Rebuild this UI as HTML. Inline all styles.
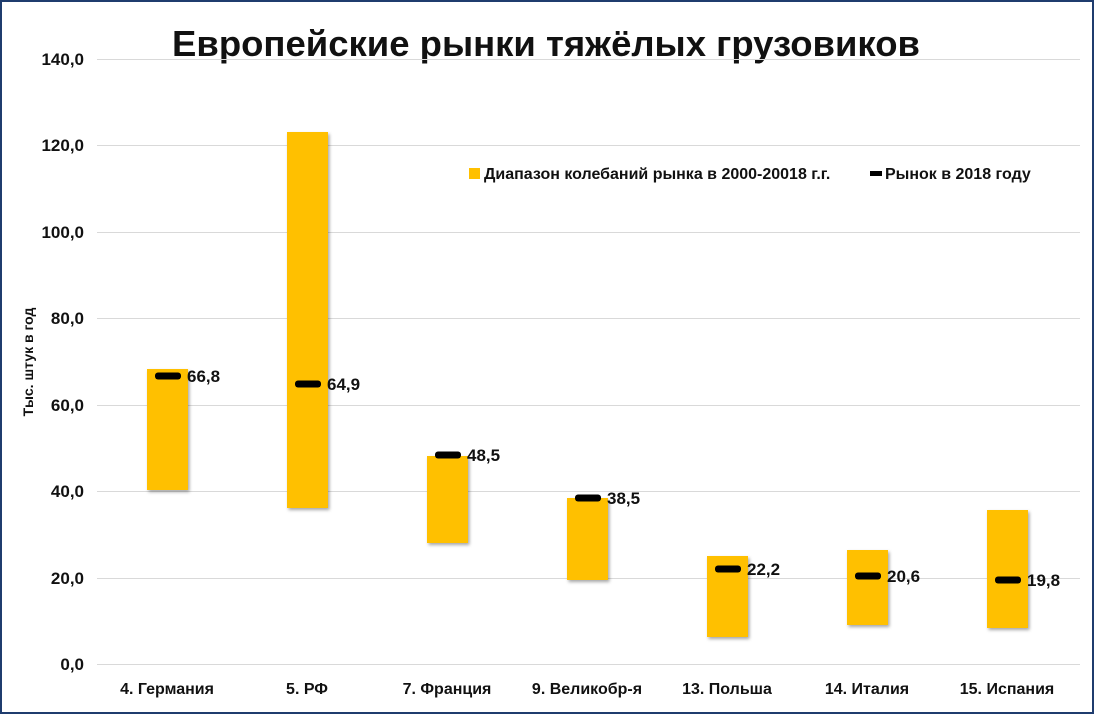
<!DOCTYPE html>
<html><head><meta charset="utf-8"><style>
body{margin:0;background:#fff}
svg text{font-family:"Liberation Sans",sans-serif;font-weight:bold;fill:#111}
</style></head><body>
<svg width="1094" height="714" viewBox="0 0 1094 714" xmlns="http://www.w3.org/2000/svg">
<defs><filter id="sh" x="-20%" y="-5%" width="140%" height="110%"><feDropShadow dx="1.5" dy="2" stdDeviation="1.5" flood-color="#000" flood-opacity="0.35"/></filter></defs>
<rect x="1" y="1" width="1092" height="712" fill="#fff" stroke="#1f3c6e" stroke-width="2"/>
<text x="546" y="56" text-anchor="middle" font-size="36.5">Европейские рынки тяжёлых грузовиков</text>
<g stroke="#d9d9d9" stroke-width="1">
<line x1="97" x2="1080" y1="59.5" y2="59.5"/><line x1="97" x2="1080" y1="145.5" y2="145.5"/>
<line x1="97" x2="1080" y1="232.5" y2="232.5"/><line x1="97" x2="1080" y1="318.5" y2="318.5"/>
<line x1="97" x2="1080" y1="405.5" y2="405.5"/><line x1="97" x2="1080" y1="491.5" y2="491.5"/>
<line x1="97" x2="1080" y1="578.5" y2="578.5"/><line x1="97" x2="1080" y1="664.5" y2="664.5"/>
</g>
<g font-size="17" text-anchor="end">
<text x="84" y="65">140,0</text><text x="84" y="151">120,0</text><text x="84" y="238">100,0</text>
<text x="84" y="324">80,0</text><text x="84" y="411">60,0</text><text x="84" y="497">40,0</text>
<text x="84" y="584">20,0</text><text x="84" y="670">0,0</text>
</g>
<text transform="translate(33,362) rotate(-90)" text-anchor="middle" font-size="14">Тыс. штук в год</text>
<g fill="#ffc000" filter="url(#sh)">
<rect x="147" y="369" width="41" height="121"/>
<rect x="287" y="132" width="41" height="376"/>
<rect x="427" y="456" width="41" height="87"/>
<rect x="567" y="498" width="41" height="82"/>
<rect x="707" y="556" width="41" height="81"/>
<rect x="847" y="550" width="41" height="75"/>
<rect x="987" y="510" width="41" height="118"/>
</g>
<g fill="#000">
<rect x="155" y="372.5" width="26" height="7" rx="3"/>
<rect x="295" y="380.5" width="26" height="7" rx="3"/>
<rect x="435" y="451.5" width="26" height="7" rx="3"/>
<rect x="575" y="494.5" width="26" height="7" rx="3"/>
<rect x="715" y="565.5" width="26" height="7" rx="3"/>
<rect x="855" y="572.5" width="26" height="7" rx="3"/>
<rect x="995" y="576.5" width="26" height="7" rx="3"/>
</g>
<g font-size="17">
<text x="187" y="382">66,8</text><text x="327" y="390">64,9</text>
<text x="467" y="461">48,5</text><text x="607" y="504">38,5</text>
<text x="747" y="575">22,2</text><text x="887" y="582">20,6</text>
<text x="1027" y="586">19,8</text>
</g>
<g font-size="16" text-anchor="middle">
<text x="167" y="694">4. Германия</text><text x="307" y="694">5. РФ</text>
<text x="447" y="694">7. Франция</text><text x="587" y="694">9. Великобр-я</text>
<text x="727" y="694">13. Польша</text><text x="867" y="694">14. Италия</text>
<text x="1007" y="694">15. Испания</text>
</g>
<rect x="469" y="168" width="11" height="11" fill="#ffc000"/>
<text x="484" y="179" font-size="16">Диапазон колебаний рынка в 2000-20018 г.г.</text>
<rect x="870" y="171" width="12" height="5" fill="#000"/>
<text x="885" y="179" font-size="16">Рынок в 2018 году</text>
</svg>
</body></html>
